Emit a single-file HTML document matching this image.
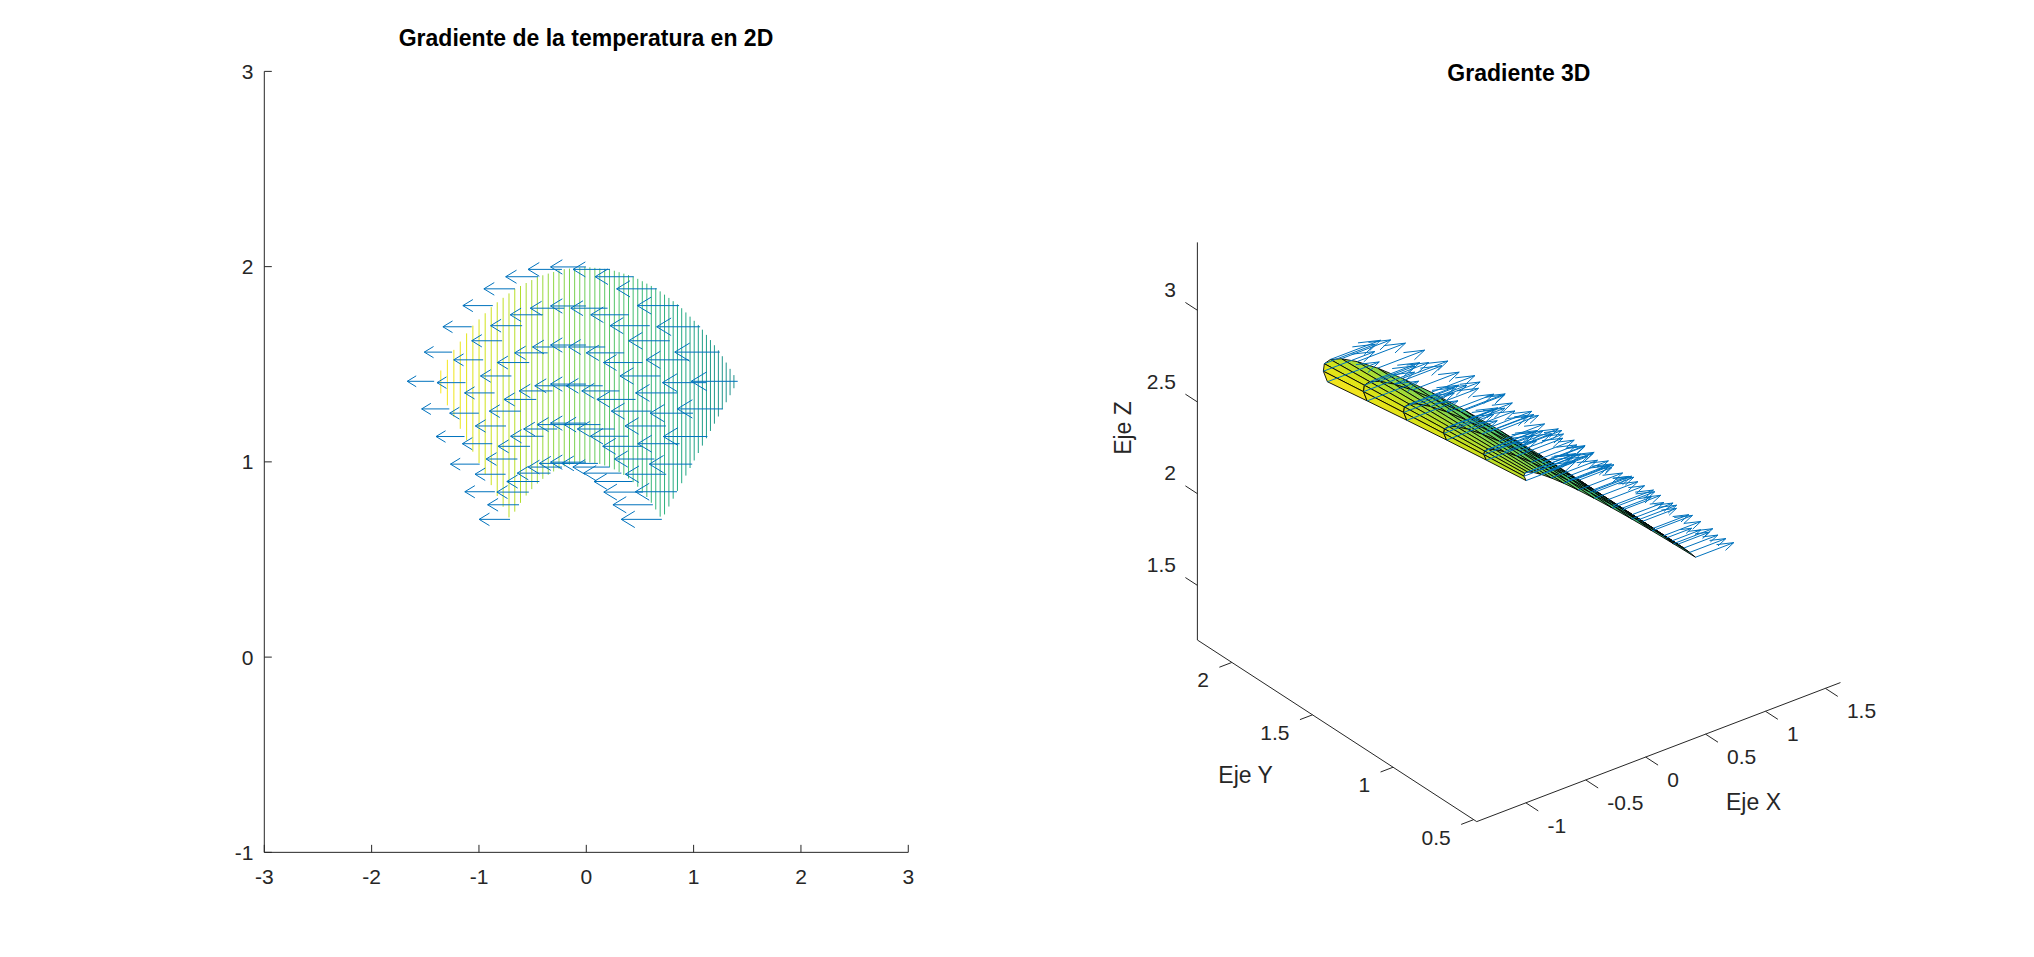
<!DOCTYPE html>
<html><head><meta charset="utf-8"><title>Gradiente</title>
<style>html,body{margin:0;padding:0;background:#fff;overflow:hidden}svg{display:block}text{font-family:"Liberation Sans",sans-serif;fill:#262626}</style>
</head><body>
<svg width="2034" height="957" viewBox="0 0 2034 957">
<rect width="2034" height="957" fill="#fff"/>
<g stroke-width="1" fill="none">
<path d="M440.80 370.49V393.40" stroke="#f8e621"/>
<path d="M447.37 359.81V405.35" stroke="#f4e61e"/>
<path d="M453.86 349.85V417.15" stroke="#efe51c"/>
<path d="M460.27 341.57V428.82" stroke="#eae51a"/>
<path d="M466.61 333.39V440.34" stroke="#e5e419"/>
<path d="M472.87 325.64V451.73" stroke="#dfe318"/>
<path d="M479.06 319.41V462.99" stroke="#dae319"/>
<path d="M485.18 313.26V474.13" stroke="#d2e21b"/>
<path d="M491.23 307.18V485.13" stroke="#cde11d"/>
<path d="M497.22 302.27V496.02" stroke="#c8e020"/>
<path d="M503.13 297.82V506.78" stroke="#c2df23"/>
<path d="M508.99 293.41V517.43" stroke="#bddf26"/>
<path d="M514.78 289.04V511.67" stroke="#b8de29"/>
<path d="M520.50 285.98V502.85" stroke="#b2dd2d"/>
<path d="M526.17 283.01V495.54" stroke="#aadc32"/>
<path d="M531.78 280.07V489.14" stroke="#a5db36"/>
<path d="M537.33 277.16V483.56" stroke="#a0da39"/>
<path d="M542.82 275.28V478.90" stroke="#9bd93c"/>
<path d="M548.26 273.60V474.81" stroke="#95d840"/>
<path d="M553.64 271.94V471.47" stroke="#90d743"/>
<path d="M558.97 270.29V468.68" stroke="#8bd646"/>
<path d="M564.25 269.15V466.39" stroke="#86d549"/>
<path d="M569.48 268.61V464.77" stroke="#7fd34e"/>
<path d="M574.65 268.08V463.32" stroke="#7ad151"/>
<path d="M579.78 267.56V462.80" stroke="#75d054"/>
<path d="M584.85 267.04V462.28" stroke="#70cf57"/>
<path d="M589.88 267.33V462.57" stroke="#6ccd5a"/>
<path d="M594.87 267.84V463.08" stroke="#67cc5c"/>
<path d="M599.80 268.35V463.97" stroke="#63cb5f"/>
<path d="M604.70 268.85V465.48" stroke="#5cc863"/>
<path d="M609.54 269.34V466.98" stroke="#58c765"/>
<path d="M614.35 270.74V469.44" stroke="#54c568"/>
<path d="M619.11 272.21V471.93" stroke="#50c46a"/>
<path d="M623.83 273.67V474.97" stroke="#4cc26c"/>
<path d="M628.51 275.11V478.49" stroke="#48c16e"/>
<path d="M633.15 276.55V482.15" stroke="#44bf70"/>
<path d="M637.75 278.84V486.77" stroke="#3fbc73"/>
<path d="M642.31 281.23V491.36" stroke="#3bbb75"/>
<path d="M646.83 283.60V496.98" stroke="#38b977"/>
<path d="M651.31 285.95V502.77" stroke="#35b779"/>
<path d="M655.76 288.28V509.48" stroke="#32b67a"/>
<path d="M660.17 291.35V516.65" stroke="#2fb47c"/>
<path d="M664.54 294.65V514.43" stroke="#2db27d"/>
<path d="M668.88 297.92V506.54" stroke="#2ab07f"/>
<path d="M673.18 301.16V498.71" stroke="#27ad81"/>
<path d="M677.45 304.38V490.94" stroke="#25ac82"/>
<path d="M681.69 308.23V483.23" stroke="#24aa83"/>
<path d="M685.89 312.45V475.59" stroke="#22a884"/>
<path d="M690.06 316.64V468.00" stroke="#21a685"/>
<path d="M694.20 320.80V460.48" stroke="#20a486"/>
<path d="M698.31 324.93V453.01" stroke="#1fa287"/>
<path d="M702.38 329.67V445.60" stroke="#1fa088"/>
<path d="M706.43 334.89V438.24" stroke="#1f9e89"/>
<path d="M710.44 340.07V430.94" stroke="#1e9c89"/>
<path d="M714.42 345.21V423.69" stroke="#1f9a8a"/>
<path d="M718.38 350.31V416.50" stroke="#1f988b"/>
<path d="M722.30 356.23V409.35" stroke="#1f968b"/>
<path d="M726.20 362.56V402.26" stroke="#1f948c"/>
<path d="M730.07 368.85V395.23" stroke="#20928c"/>
<path d="M733.91 375.10V388.24" stroke="#21908d"/>
</g>
<g stroke="#0072bd" stroke-width="1" fill="none" stroke-linejoin="miter">
<path d="M661.83 519.35H621.27M634.79 511.15L621.27 519.35L634.79 527.55"/>
<path d="M652.86 504.77H612.94M626.25 496.70L612.94 504.77L626.25 512.83"/>
<path d="M643.04 492.10H603.82M616.90 484.17L603.82 492.10L616.90 500.02"/>
<path d="M632.51 481.50H594.02M606.85 473.73L594.02 481.50L606.85 489.28"/>
<path d="M621.39 473.13H583.67M596.24 465.50L583.67 473.13L596.24 480.75"/>
<path d="M609.82 467.07H572.88M585.19 459.60L572.88 467.07L585.19 474.53"/>
<path d="M597.96 463.40H561.79M573.85 456.09L561.79 463.40L573.85 470.71"/>
<path d="M585.94 462.17H550.55M562.34 455.02L550.55 462.17L562.34 469.32"/>
<path d="M573.92 463.40H539.29M550.83 456.40L539.29 463.40L550.83 470.40"/>
<path d="M562.06 467.07H528.15M539.45 460.21L528.15 467.07L539.45 473.92"/>
<path d="M550.49 473.13H517.28M528.35 466.41L517.28 473.13L528.35 479.84"/>
<path d="M539.37 481.50H506.82M517.67 474.93L506.82 481.50L517.67 488.08"/>
<path d="M528.84 492.10H496.90M507.54 485.64L496.90 492.10L507.54 498.55"/>
<path d="M519.02 504.77H487.64M498.10 498.42L487.64 504.77L498.10 511.11"/>
<path d="M510.05 519.35H479.17M489.46 513.11L479.17 519.35L489.46 525.60"/>
<path d="M677.01 491.74H635.32M649.22 483.32L635.32 491.74L649.22 500.17"/>
<path d="M666.24 474.24H625.35M638.98 465.97L625.35 474.24L638.98 482.50"/>
<path d="M654.46 459.03H614.43M627.77 450.94L614.43 459.03L627.77 467.12"/>
<path d="M641.82 446.32H602.69M615.73 438.41L602.69 446.32L615.73 454.23"/>
<path d="M628.48 436.27H590.27M603.01 428.55L590.27 436.27L603.01 443.99"/>
<path d="M614.60 429.00H577.34M589.76 421.46L577.34 429.00L589.76 436.53"/>
<path d="M600.36 424.60H564.04M576.15 417.25L564.04 424.60L576.15 431.94"/>
<path d="M585.94 423.12H550.55M562.34 415.97L550.55 423.12L562.34 430.28"/>
<path d="M571.52 424.60H537.03M548.53 417.62L537.03 424.60L548.53 431.57"/>
<path d="M557.28 429.00H523.67M534.87 422.20L523.67 429.00L534.87 435.79"/>
<path d="M543.40 436.27H510.61M521.54 429.64L510.61 436.27L521.54 442.90"/>
<path d="M530.06 446.32H498.05M508.72 439.85L498.05 446.32L508.72 452.79"/>
<path d="M517.42 459.03H486.13M496.56 452.71L486.13 459.03L496.56 465.36"/>
<path d="M505.64 474.24H475.00M485.21 468.04L475.00 474.24L485.21 480.43"/>
<path d="M494.87 491.74H464.82M474.84 485.67L464.82 491.74L474.84 497.82"/>
<path d="M692.19 464.13H649.35M663.63 455.47L649.35 464.13L663.63 472.79"/>
<path d="M679.63 443.71H637.74M651.70 435.24L637.74 443.71L651.70 452.17"/>
<path d="M665.88 425.97H625.02M638.64 417.71L625.02 425.97L638.64 434.23"/>
<path d="M651.14 411.14H611.34M624.61 403.10L611.34 411.14L624.61 419.19"/>
<path d="M635.57 399.41H596.87M609.77 391.59L596.87 399.41L609.77 407.23"/>
<path d="M619.38 390.93H581.79M594.32 383.33L581.79 390.93L594.32 398.52"/>
<path d="M602.76 385.79H566.28M578.44 378.42L566.28 385.79L578.44 393.17"/>
<path d="M585.94 384.07H550.55M562.34 376.92L550.55 384.07L562.34 391.23"/>
<path d="M569.12 385.79H534.78M546.22 378.85L534.78 385.79L546.22 392.73"/>
<path d="M552.50 390.93H519.18M530.29 384.19L519.18 390.93L530.29 397.66"/>
<path d="M536.31 399.41H503.94M514.73 392.87L503.94 399.41L514.73 405.96"/>
<path d="M520.74 411.14H489.27M499.76 404.78L489.27 411.14L499.76 417.50"/>
<path d="M506.00 425.97H475.34M485.56 419.77L475.34 425.97L485.56 432.17"/>
<path d="M492.25 443.71H462.35M472.32 437.66L462.35 443.71L472.32 449.75"/>
<path d="M479.69 464.13H450.45M460.20 458.22L450.45 464.13L460.20 470.04"/>
<path d="M707.37 436.52H663.34M678.02 427.62L663.34 436.52L678.02 445.42"/>
<path d="M693.01 413.18H650.10M664.41 404.51L650.10 413.18L664.41 421.85"/>
<path d="M677.30 392.91H635.59M649.50 384.48L635.59 392.91L649.50 401.34"/>
<path d="M660.45 375.96H619.98M633.47 367.78L619.98 375.96L633.47 384.14"/>
<path d="M642.66 362.56H603.47M616.53 354.63L603.47 362.56L616.53 370.48"/>
<path d="M624.15 352.86H586.24M598.88 345.20L586.24 352.86L598.88 360.52"/>
<path d="M605.17 346.99H568.53M580.74 339.59L568.53 346.99L580.74 354.40"/>
<path d="M585.94 345.03H550.55M562.34 337.87L550.55 345.03L562.34 352.18"/>
<path d="M566.71 346.99H532.52M543.92 340.08L532.52 346.99L543.92 353.90"/>
<path d="M547.73 352.86H514.68M525.70 346.18L514.68 352.86L525.70 359.54"/>
<path d="M529.22 362.56H497.26M507.91 356.10L497.26 362.56L507.91 369.02"/>
<path d="M511.43 375.96H480.48M490.79 369.71L480.48 375.96L490.79 382.22"/>
<path d="M494.58 392.91H464.54M474.55 386.84L464.54 392.91L474.55 398.98"/>
<path d="M478.87 413.18H449.67M459.41 407.28L449.67 413.18L459.41 419.08"/>
<path d="M464.51 436.52H436.06M445.54 430.77L436.06 436.52L445.54 442.27"/>
<path d="M722.55 408.91H677.30M692.38 399.76L677.30 408.91L692.38 418.06"/>
<path d="M706.39 382.65H662.44M677.09 373.77L662.44 382.65L677.09 391.53"/>
<path d="M688.73 359.84H646.15M660.34 351.24L646.15 359.84L660.34 368.45"/>
<path d="M669.76 340.78H628.61M642.33 332.46L628.61 340.78L642.33 349.10"/>
<path d="M649.75 325.70H610.05M623.28 317.68L610.05 325.70L623.28 333.72"/>
<path d="M628.93 314.79H590.69M603.44 307.06L590.69 314.79L603.44 322.52"/>
<path d="M607.57 308.19H570.77M583.04 300.75L570.77 308.19L583.04 315.62"/>
<path d="M585.94 305.98H550.55M562.34 298.82L550.55 305.98L562.34 313.13"/>
<path d="M564.31 308.19H530.27M541.61 301.31L530.27 308.19L541.61 315.07"/>
<path d="M542.95 314.79H510.19M521.11 308.17L510.19 314.79L521.11 321.41"/>
<path d="M522.13 325.70H490.58M501.09 319.32L490.58 325.70L501.09 332.08"/>
<path d="M502.12 340.78H471.68M481.82 334.63L471.68 340.78L481.82 346.93"/>
<path d="M483.15 359.84H453.73M463.54 353.90L453.73 359.84L463.54 365.79"/>
<path d="M465.49 382.65H436.99M446.49 376.89L436.99 382.65L446.49 388.41"/>
<path d="M449.33 408.91H421.65M430.88 403.31L421.65 408.91L430.88 414.51"/>
<path d="M737.73 381.30H691.23M706.73 371.90L691.23 381.30L706.73 390.70"/>
<path d="M719.78 352.12H674.76M689.76 343.02L674.76 352.12L689.76 361.22"/>
<path d="M700.15 326.78H656.68M671.17 318.00L656.68 326.78L671.17 335.57"/>
<path d="M679.08 305.60H637.23M651.18 297.14L637.23 305.60L651.18 314.06"/>
<path d="M656.84 288.84H616.63M630.03 280.72L616.63 288.84L630.03 296.97"/>
<path d="M633.71 276.72H595.14M607.99 268.93L595.14 276.72L607.99 284.52"/>
<path d="M609.97 269.39H573.02M585.34 261.92L573.02 269.39L585.34 276.85"/>
<path d="M585.94 266.93H550.55M562.34 259.78L550.55 266.93L562.34 274.08"/>
<path d="M561.91 269.39H528.01M539.31 262.53L528.01 269.39L539.31 276.24"/>
<path d="M538.17 276.72H505.69M516.52 270.16L505.69 276.72L516.52 283.28"/>
<path d="M515.04 288.84H483.89M494.27 282.55L483.89 288.84L494.27 295.14"/>
<path d="M492.80 305.60H462.87M472.85 299.55L462.87 305.60L472.85 311.65"/>
<path d="M471.73 326.78H442.91M452.52 320.96L442.91 326.78L452.52 332.61"/>
<path d="M452.10 352.12H424.28M433.55 346.50L424.28 352.12L433.55 357.74"/>
<path d="M434.15 381.30H407.21M416.19 375.85L407.21 381.30L416.19 386.74"/>
</g>
<g stroke="#262626" stroke-width="1" fill="none">
<path d="M264.30 71.39V852.35H908.28"/>
<path d="M264.30 852.35v-7.5"/>
<path d="M371.63 852.35v-7.5"/>
<path d="M478.96 852.35v-7.5"/>
<path d="M586.29 852.35v-7.5"/>
<path d="M693.62 852.35v-7.5"/>
<path d="M800.95 852.35v-7.5"/>
<path d="M908.28 852.35v-7.5"/>
<path d="M264.30 852.35h7.5"/>
<path d="M264.30 657.11h7.5"/>
<path d="M264.30 461.87h7.5"/>
<path d="M264.30 266.63h7.5"/>
<path d="M264.30 71.39h7.5"/>
</g>
<g font-size="21">
<text x="264.3" y="883.5" text-anchor="middle">-3</text>
<text x="371.6" y="883.5" text-anchor="middle">-2</text>
<text x="479.0" y="883.5" text-anchor="middle">-1</text>
<text x="586.3" y="883.5" text-anchor="middle">0</text>
<text x="693.6" y="883.5" text-anchor="middle">1</text>
<text x="801.0" y="883.5" text-anchor="middle">2</text>
<text x="908.3" y="883.5" text-anchor="middle">3</text>
<text x="253.5" y="859.8" text-anchor="end">-1</text>
<text x="253.5" y="664.5" text-anchor="end">0</text>
<text x="253.5" y="469.3" text-anchor="end">1</text>
<text x="253.5" y="274.0" text-anchor="end">2</text>
<text x="253.5" y="78.8" text-anchor="end">3</text>
</g>
<text x="586" y="46.4" text-anchor="middle" font-size="23" font-weight="bold" style="fill:#000">Gradiente de la temperatura en 2D</text>
<g stroke="#000" stroke-width="0.9" stroke-linejoin="round">
<path d="M1672.11 540.83L1666.25 537.98L1622.13 508.22L1632.39 514.56Z" fill="#1f968b"/>
<path d="M1632.39 514.56L1622.13 508.22L1579.29 480.02L1593.84 489.65Z" fill="#1fa088"/>
<path d="M1593.84 489.65L1579.29 480.02L1538.29 453.89L1556.94 466.55Z" fill="#23a983"/>
<path d="M1556.94 466.55L1538.29 453.89L1499.63 430.32L1522.14 445.66Z" fill="#2db27d"/>
<path d="M1522.14 445.66L1499.63 430.32L1463.80 409.68L1489.90 427.33Z" fill="#3bbb75"/>
<path d="M1677.96 544.20L1672.11 540.83L1632.39 514.56L1642.66 521.29Z" fill="#1f9e89"/>
<path d="M1642.66 521.29L1632.39 514.56L1593.84 489.65L1608.39 499.56Z" fill="#21a585"/>
<path d="M1608.39 499.56L1593.84 489.65L1556.94 466.55L1575.59 479.38Z" fill="#27ad81"/>
<path d="M1489.90 427.33L1463.80 409.68L1431.25 392.30L1460.61 411.83Z" fill="#50c46a"/>
<path d="M1575.59 479.38L1556.94 466.55L1522.14 445.66L1544.66 461.10Z" fill="#32b67a"/>
<path d="M1544.66 461.10L1522.14 445.66L1489.90 427.33L1516.00 445.01Z" fill="#40bd72"/>
<path d="M1460.61 411.83L1431.25 392.30L1402.40 378.41L1434.64 399.37Z" fill="#65cb5e"/>
<path d="M1683.82 548.06L1677.96 544.20L1642.66 521.29L1652.93 528.40Z" fill="#20a486"/>
<path d="M1652.93 528.40L1642.66 521.29L1608.39 499.56L1622.94 509.74Z" fill="#25ab82"/>
<path d="M1516.00 445.01L1489.90 427.33L1460.61 411.83L1489.96 431.36Z" fill="#52c569"/>
<path d="M1622.94 509.74L1608.39 499.56L1575.59 479.38L1594.24 492.39Z" fill="#2db27d"/>
<path d="M1594.24 492.39L1575.59 479.38L1544.66 461.10L1567.18 476.64Z" fill="#38b977"/>
<path d="M1434.64 399.37L1402.40 378.41L1377.60 368.15L1412.32 390.09Z" fill="#7ad151"/>
<path d="M1489.96 431.36L1460.61 411.83L1434.64 399.37L1466.88 420.33Z" fill="#65cb5e"/>
<path d="M1567.18 476.64L1544.66 461.10L1516.00 445.01L1542.10 462.74Z" fill="#46c06f"/>
<path d="M1542.10 462.74L1516.00 445.01L1489.96 431.36L1519.32 450.91Z" fill="#56c667"/>
<path d="M1689.67 552.42L1683.82 548.06L1652.93 528.40L1663.20 535.88Z" fill="#25ac82"/>
<path d="M1663.20 535.88L1652.93 528.40L1622.94 509.74L1637.49 520.17Z" fill="#2cb17e"/>
<path d="M1412.32 390.09L1377.60 368.15L1357.17 361.59L1393.93 384.07Z" fill="#90d743"/>
<path d="M1466.88 420.33L1434.64 399.37L1412.32 390.09L1447.04 412.04Z" fill="#7ad151"/>
<path d="M1637.49 520.17L1622.94 509.74L1594.24 492.39L1612.89 505.56Z" fill="#34b679"/>
<path d="M1612.89 505.56L1594.24 492.39L1567.18 476.64L1589.70 492.27Z" fill="#3fbc73"/>
<path d="M1519.32 450.91L1489.96 431.36L1466.88 420.33L1499.12 441.29Z" fill="#67cc5c"/>
<path d="M1589.70 492.27L1567.18 476.64L1542.10 462.74L1568.20 480.52Z" fill="#4cc26c"/>
<path d="M1447.04 412.04L1412.32 390.09L1393.93 384.07L1430.69 406.58Z" fill="#8ed645"/>
<path d="M1568.20 480.52L1542.10 462.74L1519.32 450.91L1548.67 470.46Z" fill="#58c765"/>
<path d="M1393.93 384.07L1357.17 361.59L1341.36 358.73L1379.70 381.30Z" fill="#a8db34"/>
<path d="M1499.12 441.29L1466.88 420.33L1447.04 412.04L1481.76 434.00Z" fill="#77d153"/>
<path d="M1695.53 557.24L1689.67 552.42L1663.20 535.88L1673.46 543.72Z" fill="#2db27d"/>
<path d="M1673.46 543.72L1663.20 535.88L1637.49 520.17L1652.05 530.87Z" fill="#34b679"/>
<path d="M1652.05 530.87L1637.49 520.17L1612.89 505.56L1631.54 518.90Z" fill="#3bbb75"/>
<path d="M1548.67 470.46L1519.32 450.91L1499.12 441.29L1531.36 462.25Z" fill="#67cc5c"/>
<path d="M1631.54 518.90L1612.89 505.56L1589.70 492.27L1612.21 508.00Z" fill="#46c06f"/>
<path d="M1481.76 434.00L1447.04 412.04L1430.69 406.58L1467.46 429.12Z" fill="#8bd646"/>
<path d="M1612.21 508.00L1589.70 492.27L1568.20 480.52L1594.30 498.33Z" fill="#50c46a"/>
<path d="M1430.69 406.58L1393.93 384.07L1379.70 381.30L1418.05 403.94Z" fill="#a2da37"/>
<path d="M1531.36 462.25L1499.12 441.29L1481.76 434.00L1516.48 455.97Z" fill="#77d153"/>
<path d="M1594.30 498.33L1568.20 480.52L1548.67 470.46L1578.03 490.03Z" fill="#5cc863"/>
<path d="M1379.70 381.30L1341.36 358.73L1330.37 359.49L1369.81 381.73Z" fill="#bddf26"/>
<path d="M1578.03 490.03L1548.67 470.46L1531.36 462.25L1563.60 483.21Z" fill="#69cd5b"/>
<path d="M1467.46 429.12L1430.69 406.58L1418.05 403.94L1456.39 426.67Z" fill="#9dd93b"/>
<path d="M1516.48 455.97L1481.76 434.00L1467.46 429.12L1504.22 451.71Z" fill="#86d549"/>
<path d="M1418.05 403.94L1379.70 381.30L1369.81 381.73L1409.26 404.11Z" fill="#b5de2b"/>
<path d="M1563.60 483.21L1531.36 462.25L1516.48 455.97L1551.20 477.96Z" fill="#75d054"/>
<path d="M1369.81 381.73L1330.37 359.49L1324.34 363.71L1364.39 385.25Z" fill="#d2e21b"/>
<path d="M1504.22 451.71L1467.46 429.12L1456.39 426.67L1494.73 449.47Z" fill="#95d840"/>
<path d="M1456.39 426.67L1418.05 403.94L1409.26 404.11L1448.70 426.61Z" fill="#addc30"/>
<path d="M1551.20 477.96L1516.48 455.97L1504.22 451.71L1540.98 474.33Z" fill="#84d44b"/>
<path d="M1409.26 404.11L1369.81 381.73L1364.39 385.25L1404.43 406.98Z" fill="#c8e020"/>
<path d="M1494.73 449.47L1456.39 426.67L1448.70 426.61L1488.14 449.25Z" fill="#a5db36"/>
<path d="M1540.98 474.33L1504.22 451.71L1494.73 449.47L1533.08 472.35Z" fill="#90d743"/>
<path d="M1448.70 426.61L1409.26 404.11L1404.43 406.98L1444.48 428.90Z" fill="#bddf26"/>
<path d="M1364.39 385.25L1324.34 363.71L1323.35 371.22L1363.49 391.70Z" fill="#e2e418"/>
<path d="M1533.08 472.35L1494.73 449.47L1488.14 449.25L1527.58 472.02Z" fill="#9dd93b"/>
<path d="M1488.14 449.25L1448.70 426.61L1444.48 428.90L1484.52 451.01Z" fill="#b2dd2d"/>
<path d="M1404.43 406.98L1364.39 385.25L1363.49 391.70L1403.64 412.44Z" fill="#d8e219"/>
<path d="M1444.48 428.90L1404.43 406.98L1403.64 412.44L1443.78 433.42Z" fill="#cde11d"/>
<path d="M1527.58 472.02L1488.14 449.25L1484.52 451.01L1524.57 473.32Z" fill="#a8db34"/>
<path d="M1484.52 451.01L1444.48 428.90L1443.78 433.42L1483.93 454.67Z" fill="#c0df25"/>
<path d="M1363.49 391.70L1323.35 371.22L1327.41 381.76L1367.15 400.88Z" fill="#f1e51d"/>
<path d="M1403.64 412.44L1363.49 391.70L1367.15 400.88L1406.88 420.31Z" fill="#e5e419"/>
<path d="M1524.57 473.32L1484.52 451.01L1483.93 454.67L1524.07 476.19Z" fill="#b5de2b"/>
<path d="M1443.78 433.42L1403.64 412.44L1406.88 420.31L1446.62 440.06Z" fill="#dae319"/>
<path d="M1483.93 454.67L1443.78 433.42L1446.62 440.06L1486.36 460.14Z" fill="#cde11d"/>
<path d="M1524.07 476.19L1483.93 454.67L1486.36 460.14L1526.10 480.55Z" fill="#bddf26"/>
</g>
<g stroke="#0072bd" stroke-width="1" fill="none" stroke-linejoin="miter">
<path d="M1695.53 557.24L1733.75 542.63M1716.55 544.60L1733.75 542.63L1725.47 550.40"/>
<path d="M1673.46 543.72L1712.78 528.69M1695.09 530.72L1712.78 528.69L1704.26 536.68"/>
<path d="M1652.05 530.87L1692.47 515.42M1674.28 517.50L1692.47 515.42L1683.71 523.63"/>
<path d="M1631.54 518.90L1673.06 503.03M1654.38 505.17L1673.06 503.03L1664.07 511.47"/>
<path d="M1612.21 508.00L1654.81 491.72M1635.64 493.92L1654.81 491.72L1645.57 500.37"/>
<path d="M1594.30 498.33L1637.91 481.65M1618.29 483.91L1637.91 481.65L1628.46 490.52"/>
<path d="M1578.03 490.03L1622.60 472.99M1602.55 475.29L1622.60 472.99L1612.94 482.05"/>
<path d="M1563.60 483.21L1609.06 465.83M1588.61 468.17L1609.06 465.83L1599.21 475.07"/>
<path d="M1551.20 477.96L1597.48 460.26M1576.65 462.65L1597.48 460.26L1587.45 469.67"/>
<path d="M1540.98 474.33L1587.99 456.36M1566.84 458.78L1587.99 456.36L1577.81 465.91"/>
<path d="M1533.08 472.35L1580.74 454.13M1559.30 456.59L1580.74 454.13L1570.41 463.82"/>
<path d="M1527.58 472.02L1575.83 453.58M1554.12 456.07L1575.83 453.58L1565.37 463.39"/>
<path d="M1524.57 473.32L1573.32 454.68M1551.38 457.20L1573.32 454.68L1562.75 464.59"/>
<path d="M1524.07 476.19L1573.26 457.38M1551.13 459.92L1573.26 457.38L1562.60 467.38"/>
<path d="M1526.10 480.55L1575.66 461.61M1553.36 464.16L1575.66 461.61L1564.92 471.68"/>
<path d="M1689.67 552.42L1725.89 538.57M1709.59 540.44L1725.89 538.57L1718.04 545.93"/>
<path d="M1663.20 535.88L1700.86 521.48M1683.91 523.42L1700.86 521.48L1692.70 529.13"/>
<path d="M1637.49 520.17L1676.62 505.22M1659.02 507.24L1676.62 505.22L1668.14 513.17"/>
<path d="M1612.89 505.56L1653.44 490.06M1635.20 492.15L1653.44 490.06L1644.66 498.30"/>
<path d="M1589.70 492.27L1631.62 476.25M1612.75 478.41L1631.62 476.25L1622.53 484.77"/>
<path d="M1568.20 480.52L1611.40 464.00M1591.96 466.23L1611.40 464.00L1602.04 472.78"/>
<path d="M1548.67 470.46L1593.06 453.49M1573.09 455.78L1593.06 453.49L1583.44 462.51"/>
<path d="M1531.36 462.25L1576.82 444.87M1556.37 447.21L1576.82 444.87L1566.97 454.11"/>
<path d="M1516.48 455.97L1562.91 438.22M1542.02 440.62L1562.91 438.22L1552.85 447.66"/>
<path d="M1504.22 451.71L1551.51 433.63M1530.23 436.07L1551.51 433.63L1541.26 443.24"/>
<path d="M1494.73 449.47L1542.77 431.10M1521.16 433.58L1542.77 431.10L1532.36 440.87"/>
<path d="M1488.14 449.25L1536.83 430.64M1514.92 433.15L1536.83 430.64L1526.28 440.53"/>
<path d="M1484.52 451.01L1533.78 432.18M1511.62 434.72L1533.78 432.18L1523.10 442.19"/>
<path d="M1483.93 454.67L1533.66 435.66M1511.28 438.23L1533.66 435.66L1522.88 445.77"/>
<path d="M1486.36 460.14L1536.49 440.97M1513.94 443.56L1536.49 440.97L1525.63 451.16"/>
<path d="M1683.82 548.06L1717.78 535.08M1702.50 536.83L1717.78 535.08L1710.42 541.98"/>
<path d="M1652.93 528.40L1688.77 514.70M1672.65 516.55L1688.77 514.70L1681.01 521.98"/>
<path d="M1622.94 509.74L1660.66 495.32M1643.69 497.27L1660.66 495.32L1652.48 502.98"/>
<path d="M1594.24 492.39L1633.75 477.28M1615.98 479.32L1633.75 477.28L1625.19 485.31"/>
<path d="M1567.18 476.64L1608.39 460.89M1589.85 463.01L1608.39 460.89L1599.46 469.26"/>
<path d="M1542.10 462.74L1584.88 446.39M1565.63 448.60L1584.88 446.39L1575.61 455.08"/>
<path d="M1519.32 450.91L1563.51 434.01M1543.63 436.29L1563.51 434.01L1553.94 442.99"/>
<path d="M1499.12 441.29L1544.58 423.91M1524.13 426.25L1544.58 423.91L1534.73 433.15"/>
<path d="M1481.76 434.00L1528.34 416.20M1507.38 418.60L1528.34 416.20L1518.25 425.66"/>
<path d="M1467.46 429.12L1515.01 410.94M1493.61 413.40L1515.01 410.94L1504.71 420.61"/>
<path d="M1456.39 426.67L1504.78 408.17M1483.01 410.66L1504.78 408.17L1494.30 418.00"/>
<path d="M1448.70 426.61L1497.81 407.84M1475.71 410.37L1497.81 407.84L1487.16 417.82"/>
<path d="M1444.48 428.90L1494.19 409.89M1471.82 412.46L1494.19 409.89L1483.42 420.00"/>
<path d="M1443.78 433.42L1494.00 414.23M1471.41 416.82L1494.00 414.23L1483.12 424.43"/>
<path d="M1446.62 440.06L1497.26 420.70M1474.48 423.32L1497.26 420.70L1486.29 431.00"/>
<path d="M1677.96 544.20L1709.40 532.18M1695.25 533.80L1709.40 532.18L1702.58 538.57"/>
<path d="M1642.66 521.29L1676.49 508.36M1661.27 510.10L1676.49 508.36L1669.16 515.23"/>
<path d="M1608.39 499.56L1644.57 485.73M1628.29 487.60L1644.57 485.73L1636.73 493.08"/>
<path d="M1575.59 479.38L1613.99 464.70M1596.71 466.68L1613.99 464.70L1605.67 472.51"/>
<path d="M1544.66 461.10L1585.12 445.63M1566.92 447.72L1585.12 445.63L1576.36 453.86"/>
<path d="M1516.00 445.01L1558.33 428.83M1539.29 431.02L1558.33 428.83L1549.16 437.43"/>
<path d="M1489.96 431.36L1533.96 414.54M1514.17 416.81L1533.96 414.54L1524.43 423.48"/>
<path d="M1466.88 420.33L1512.34 402.95M1491.89 405.29L1512.34 402.95L1502.49 412.19"/>
<path d="M1447.04 412.04L1493.77 394.18M1472.74 396.59L1493.77 394.18L1483.64 403.68"/>
<path d="M1430.69 406.58L1478.51 388.30M1456.99 390.77L1478.51 388.30L1468.14 398.02"/>
<path d="M1418.05 403.94L1466.77 385.31M1444.85 387.83L1466.77 385.31L1456.21 395.22"/>
<path d="M1409.26 404.11L1458.75 385.18M1436.48 387.74L1458.75 385.18L1448.03 395.24"/>
<path d="M1404.43 406.98L1454.57 387.81M1432.01 390.40L1454.57 387.81L1443.70 398.00"/>
<path d="M1403.64 412.44L1454.30 393.07M1431.51 395.68L1454.30 393.07L1443.32 403.37"/>
<path d="M1406.88 420.31L1457.98 400.78M1434.99 403.42L1457.98 400.78L1446.91 411.16"/>
<path d="M1672.11 540.83L1700.71 529.90M1687.84 531.37L1700.71 529.90L1694.51 535.71"/>
<path d="M1632.39 514.56L1664.00 502.48M1649.78 504.11L1664.00 502.48L1657.15 508.90"/>
<path d="M1593.84 489.65L1628.34 476.46M1612.82 478.24L1628.34 476.46L1620.86 483.47"/>
<path d="M1556.94 466.55L1594.14 452.33M1577.40 454.25L1594.14 452.33L1586.08 459.89"/>
<path d="M1522.14 445.66L1561.82 430.49M1543.97 432.54L1561.82 430.49L1553.22 438.56"/>
<path d="M1489.90 427.33L1531.77 411.32M1512.93 413.48L1531.77 411.32L1522.70 419.83"/>
<path d="M1460.61 411.83L1504.41 395.08M1484.70 397.34L1504.41 395.08L1494.92 403.98"/>
<path d="M1434.64 399.37L1480.10 381.99M1459.65 384.33L1480.10 381.99L1470.25 391.23"/>
<path d="M1412.32 390.09L1459.20 372.17M1438.10 374.59L1459.20 372.17L1449.04 381.70"/>
<path d="M1393.93 384.07L1441.99 365.69M1420.37 368.17L1441.99 365.69L1431.58 375.46"/>
<path d="M1379.70 381.30L1428.75 362.55M1406.68 365.08L1428.75 362.55L1418.12 372.52"/>
<path d="M1369.81 381.73L1419.67 362.67M1397.24 365.24L1419.67 362.67L1408.87 372.80"/>
<path d="M1364.39 385.25L1414.91 365.94M1392.18 368.55L1414.91 365.94L1403.96 376.21"/>
<path d="M1363.49 391.70L1414.56 372.18M1391.58 374.82L1414.56 372.18L1403.49 382.56"/>
<path d="M1367.15 400.88L1418.65 381.19M1395.47 383.85L1418.65 381.19L1407.49 391.66"/>
<path d="M1666.25 537.98L1691.68 528.26M1680.24 529.57L1691.68 528.26L1686.17 533.43"/>
<path d="M1622.13 508.22L1651.27 497.08M1638.16 498.58L1651.27 497.08L1644.95 503.00"/>
<path d="M1579.29 480.02L1611.96 467.52M1597.26 469.21L1611.96 467.52L1604.88 474.17"/>
<path d="M1538.29 453.89L1574.21 440.16M1558.05 442.01L1574.21 440.16L1566.43 447.46"/>
<path d="M1499.63 430.32L1538.47 415.47M1520.99 417.47L1538.47 415.47L1530.05 423.36"/>
<path d="M1463.80 409.68L1505.20 393.86M1486.57 395.99L1505.20 393.86L1496.23 402.27"/>
<path d="M1431.25 392.30L1474.86 375.63M1455.24 377.88L1474.86 375.63L1465.41 384.49"/>
<path d="M1402.40 378.41L1447.86 361.03M1427.41 363.37L1447.86 361.03L1438.01 370.27"/>
<path d="M1377.60 368.15L1424.62 350.17M1403.46 352.60L1424.62 350.17L1414.43 359.73"/>
<path d="M1357.17 361.59L1405.47 343.13M1383.74 345.62L1405.47 343.13L1395.00 352.94"/>
<path d="M1341.36 358.73L1390.71 339.87M1368.50 342.41L1390.71 339.87L1380.01 349.90"/>
<path d="M1330.37 359.49L1380.57 340.29M1357.98 342.89L1380.57 340.29L1369.69 350.50"/>
<path d="M1324.34 363.71L1375.22 344.26M1352.33 346.89L1375.22 344.26L1364.20 354.60"/>
<path d="M1323.35 371.22L1374.78 351.56M1351.64 354.21L1374.78 351.56L1363.63 362.01"/>
<path d="M1327.41 381.76L1379.27 361.93M1355.93 364.61L1379.27 361.93L1368.03 372.48"/>
</g>
<g stroke="#262626" stroke-width="1" fill="none">
<path d="M1197.39 242.39L1197.39 640.00L1476.74 821.62L1840.46 682.57"/>
<path d="M1197.39 585.35l-11.99 -7.79"/>
<path d="M1197.39 493.65l-11.99 -7.79"/>
<path d="M1197.39 401.95l-11.99 -7.79"/>
<path d="M1197.39 310.25l-11.99 -7.79"/>
<path d="M1473.68 819.63l-12.52 4.79"/>
<path d="M1393.08 767.23l-12.52 4.79"/>
<path d="M1312.48 714.83l-12.52 4.79"/>
<path d="M1231.88 662.43l-12.52 4.79"/>
<path d="M1525.86 802.84l12.41 8.07"/>
<path d="M1585.76 779.94l12.41 8.07"/>
<path d="M1645.66 757.04l12.41 8.07"/>
<path d="M1705.56 734.14l12.41 8.07"/>
<path d="M1765.46 711.24l12.41 8.07"/>
<path d="M1825.36 688.34l12.41 8.07"/>
</g>
<g font-size="21">
<text x="1176" y="572.0" text-anchor="end">1.5</text>
<text x="1176" y="480.3" text-anchor="end">2</text>
<text x="1176" y="388.6" text-anchor="end">2.5</text>
<text x="1176" y="296.9" text-anchor="end">3</text>
<text x="1450.7" y="844.6" text-anchor="end">0.5</text>
<text x="1370.1" y="792.2" text-anchor="end">1</text>
<text x="1289.5" y="739.8" text-anchor="end">1.5</text>
<text x="1208.9" y="687.4" text-anchor="end">2</text>
<text x="1547.4" y="832.6">-1</text>
<text x="1607.3" y="809.7">-0.5</text>
<text x="1667.2" y="786.8">0</text>
<text x="1727.1" y="763.9">0.5</text>
<text x="1787.0" y="741.0">1</text>
<text x="1846.9" y="718.1">1.5</text>
</g>
<g font-size="23">
<text x="1753.5" y="809.7" text-anchor="middle">Eje X</text>
<text x="1245.6" y="783.2" text-anchor="middle">Eje Y</text>
<text transform="translate(1131,428) rotate(-90)" text-anchor="middle">Eje Z</text>
</g>
<text x="1518.9" y="80.9" text-anchor="middle" font-size="23" font-weight="bold" style="fill:#000">Gradiente 3D</text>
</svg>
</body></html>
